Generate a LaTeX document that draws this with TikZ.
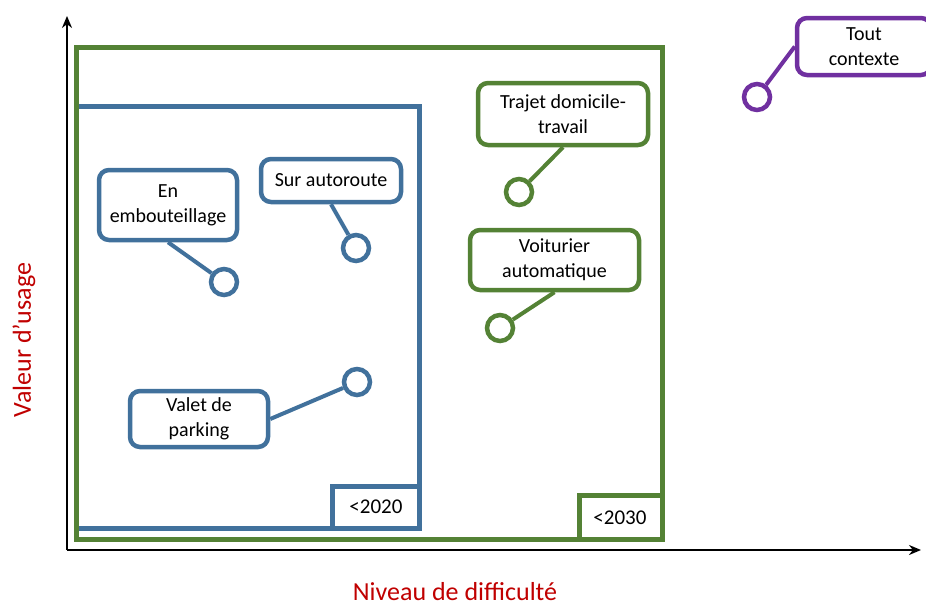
\documentclass[tikz,border=0pt]{standalone}
\usepackage{fontspec}
\setmainfont{Carlito}
\usetikzlibrary{arrows.meta}
\definecolor{cblue}{HTML}{41719C}
\definecolor{cgreen}{HTML}{548235}
\definecolor{cpurple}{HTML}{7030A0}
\definecolor{cred}{HTML}{C00000}
\tikzset{
  callout/.style={draw=#1, line width=4.5pt, rounded corners=10pt, fill=white, align=center, inner sep=0pt, font=\fontsize{20}{25}\selectfont},
  dot/.style={draw=#1, line width=4.5pt, circle, minimum size=26pt, inner sep=0pt, fill=white},
  link/.style={draw=#1, line width=4pt},
  frame/.style={draw=#1, line width=5pt},
  axis/.style={draw=black, line width=2.5pt, -{Stealth[length=12pt,width=10pt]}},
  axlabel/.style={text=cred, font=\fontsize{26}{30}\selectfont, inner sep=0pt},
  yearlabel/.style={font=\fontsize{21}{25}\selectfont}
}
\begin{document}
\begin{tikzpicture}[x=1pt,y=-1pt]
\useasboundingbox (0,0) rectangle (926,608);
% axes
\coordinate (origin) at (67,550);
\coordinate (ytip) at (67,16);
\coordinate (xtip) at (921,550);
\draw[axis] (origin) -- (ytip);
\draw[axis] (origin) -- (xtip);
% frames
\draw[frame=cblue] (76,106) rectangle (419,528);
\draw[frame=cblue] (332,528) |- (419,486);
\draw[frame=cgreen] (76,47) rectangle (662,539);
\draw[frame=cgreen] (579,539) |- (662,495);
\node[yearlabel] (y2020) at (376,507) {<2020};
\node[yearlabel] (y2030) at (620,518) {<2030};
% axis labels
\node[axlabel, rotate=90] (ylab) at (24,340) {Valeur d’usage};
\node[axlabel, anchor=base] (xlab) at (455,600) {Niveau de difficulté};
% callouts
\node[callout=cblue, minimum width=138pt, minimum height=70pt] (emb) at (168,205) {En\\embouteillage};
\node[dot=cblue] (c1) at (224,282) {};
\draw[link=cblue] (emb.south) -- (c1);
\node[callout=cblue, minimum width=140pt, minimum height=43pt] (sur) at (331,180.5) {Sur autoroute};
\node[dot=cblue] (c2) at (356,248) {};
\draw[link=cblue] (sur.south) -- (c2);
\node[callout=cblue, minimum width=138pt, minimum height=56pt] (val) at (199,419) {Valet de\\parking};
\node[dot=cblue] (c3) at (357,382) {};
\draw[link=cblue] (val.east) -- (c3);
\node[callout=cgreen, minimum width=170pt, minimum height=62pt] (tra) at (563,114) {Trajet domicile-\\travail};
\node[dot=cgreen] (c4) at (519,192) {};
\draw[link=cgreen] (tra.south) -- (c4);
\node[callout=cgreen, minimum width=169pt, minimum height=60pt] (voi) at (554.5,260) {Voiturier\\automatique};
\node[dot=cgreen] (c5) at (500,328) {};
\draw[link=cgreen] (voi.south) -- (c5);
\node[callout=cpurple, minimum width=134pt, minimum height=57pt] (tou) at (864,46.5) {Tout\\contexte};
\node[dot=cpurple] (c6) at (757,97) {};
\draw[link=cpurple] (tou.west) -- (c6);
\end{tikzpicture}
\end{document}
